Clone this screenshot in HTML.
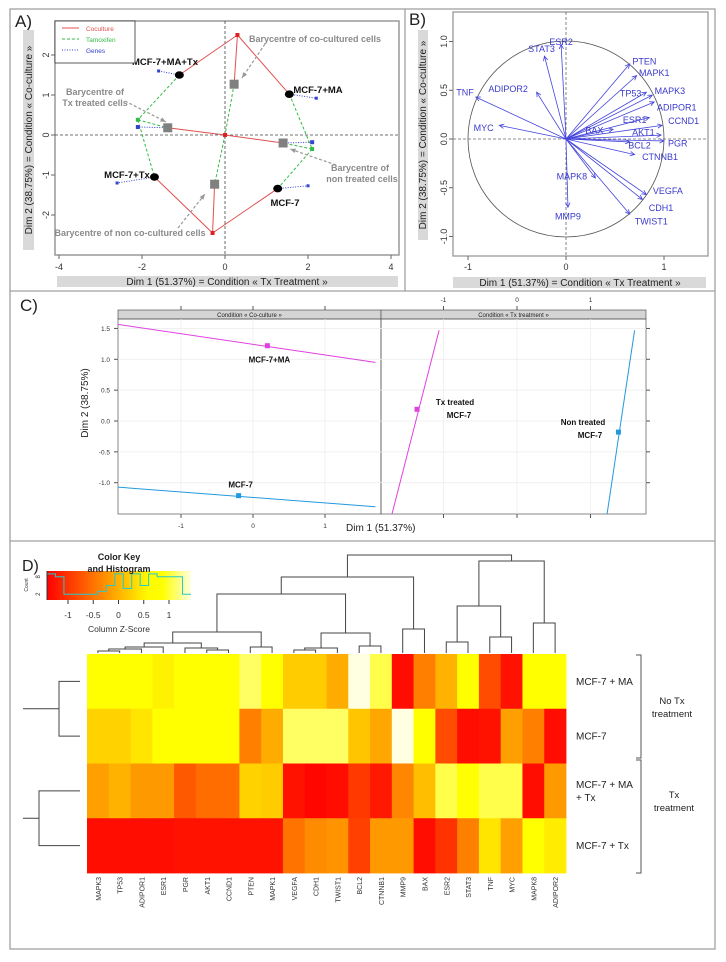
<!DOCTYPE html>
<html><head><meta charset="utf-8"><style>
body{margin:0;background:#fff}
svg{display:block;font-family:"Liberation Sans",sans-serif}
</style></head><body>
<svg id="fig" width="726" height="962" viewBox="0 0 726 962">
<rect x="0" y="0" width="726" height="962" fill="#fff"/>
<g fill="none" stroke="#a0a0a0" stroke-width="1.3">
<rect x="10" y="9" width="705" height="940"/>
<line x1="10" y1="291" x2="715" y2="291"/>
<line x1="10" y1="541" x2="715" y2="541"/>
<line x1="405" y1="9" x2="405" y2="291"/>
</g>
<g id="pA"></g>
<g id="pB"></g>
<g id="pC"></g>
<g id="pD"></g>
</svg>
<script>
// ---------- Panel A data ----------
const aSamples = ["MCF-7+MA+Tx","MCF-7+MA","MCF-7+Tx","MCF-7"];
const aSampleX = [-1.1, 1.55, -1.7, 1.27];
const aSampleY = [1.5, 1.02, -1.05, -1.34];
const aGeneX = [-1.6, 2.2, -2.6, 2.0];
const aGeneY = [1.6, 0.92, -1.2, -1.27];
const aCoX = [0.3, -0.3, 0];
const aCoY = [2.5, -2.45, 0];
const aBaryX = [0.22, -1.38, 1.4, -0.25];
const aBaryY = [1.27, 0.18, -0.2, -1.23];
const aTamX = [-2.1, 2.1];
const aTamY = [0.38, -0.35];
const aTamGeneX = [-2.1, 2.1];
const aTamGeneY = [0.2, -0.18];
const aXTicks = [-4,-2,0,2,4];
const aYTicks = [-2,-1,0,1,2];
// ---------- Panel B data ----------
const bGenes = ["ESR2","STAT3","PTEN","MAPK1","TP53","MAPK3","ADIPOR1","ESR1","CCND1","BAX","AKT1","PGR","BCL2","CTNNB1","MAPK8","MMP9","VEGFA","CDH1","TWIST1","TNF","MYC","ADIPOR2"];
const bX = [-0.05,-0.22,0.65,0.72,0.82,0.88,0.9,0.85,0.98,0.48,0.97,1.0,0.65,0.7,0.3,0.02,0.82,0.78,0.65,-0.92,-0.68,-0.3];
const bY = [0.97,0.85,0.77,0.65,0.48,0.45,0.38,0.22,0.14,0.1,0.04,-0.02,-0.03,-0.16,-0.4,-0.7,-0.57,-0.62,-0.77,0.43,0.14,0.48];
const bLabX = [-0.05,-0.25,0.8,0.9,0.66,1.06,1.13,0.7,1.2,0.29,0.79,1.14,0.75,0.96,0.06,0.02,1.04,0.97,0.87,-1.03,-0.84,-0.59];
const bLabY = [1.0,0.93,0.8,0.68,0.47,0.5,0.33,0.2,0.19,0.09,0.07,-0.04,-0.06,-0.18,-0.38,-0.79,-0.53,-0.7,-0.84,0.48,0.12,0.52];
const bTicks = [-1,0,1];
const bYTicks = [-1.0,-0.5,0.0,0.5,1.0];
// ---------- Panel C data ----------
const cLeftLineX1 = [-1.9,-1.9], cLeftLineY1 = [1.57,-1.07];
const cLeftLineX2 = [1.7,1.7], cLeftLineY2 = [0.95,-1.39];
const cLeftPtX = [0.2,-0.2], cLeftPtY = [1.22,-1.21];
const cLeftLabels = ["MCF-7+MA","MCF-7"];
const cRightLineX1 = [-1.71,1.22], cRightLineY1 = [-1.55,-1.55];
const cRightLineX2 = [-1.06,1.6], cRightLineY2 = [1.47,1.47];
const cRightPtX = [-1.36,1.38], cRightPtY = [0.19,-0.18];
const cXTicks = [-1,0,1];
const cYTicks = [-1.0,-0.5,0.0,0.5,1.0,1.5];
// ---------- Panel D data ----------
const dGenes = ["MAPK3","TP53","ADIPOR1","ESR1","PGR","AKT1","CCND1","PTEN","MAPK1","VEGFA","CDH1","TWIST1","BCL2","CTNNB1","MMP9","BAX","ESR2","STAT3","TNF","MYC","MAPK8","ADIPOR2"];
const dRowsZ = [
 [0.8,0.8,0.8,0.5,0.8,0.8,0.8,1.1,0.8,0.2,0.2,-0.05,1.35,1.05,-1.3,-0.4,0.0,0.7,-0.8,-1.25,0.8,0.8],
 [0.25,0.25,0.4,0.75,0.75,0.75,0.75,-0.4,-0.05,1.1,1.1,1.1,0.15,-0.1,1.35,0.75,-0.8,-1.3,-1.25,-0.15,-0.4,-1.3],
 [-0.15,0.0,-0.2,-0.2,-0.7,-0.55,-0.55,0.25,0.2,-1.25,-1.35,-1.3,-0.95,-1.2,-0.35,0.1,1.05,0.75,1.05,1.05,-1.3,-0.2],
 [-1.3,-1.3,-1.3,-1.3,-1.25,-1.25,-1.25,-1.25,-1.25,-0.5,-0.3,-0.25,-0.9,-0.2,-0.2,-1.3,-1.0,-0.4,0.4,-0.15,0.75,0.45]
];
const dRowLabels = [["MCF-7 + MA"],["MCF-7"],["MCF-7 + MA","+ Tx"],["MCF-7 + Tx"]];
// merges: [leftNode,rightNode,heightPx]; leaves 0..21, merges 22+
const dMerges = [
 [0,1,651],[22,2,649],[23,3,647],[5,6,650],[4,25,648],[24,26,643],[7,8,647],[27,28,632],
 [9,10,650],[30,11,648],[12,13,646],[31,32,633],[29,33,594],[14,15,629],[34,35,577],
 [16,17,642],[18,19,637],[37,38,606],[20,21,623],[39,40,561],[36,41,555]
];
const dKeyTicks = [-1,-0.5,0,0.5,1];
const dHistCounts = [9,8,2,2,2,2,3,5,9,4,9,5,9,8,8,8,2];

const NS="http://www.w3.org/2000/svg";
function mk(parent, tag, attrs, txt){const e=document.createElementNS(NS,tag);for(const k in attrs)e.setAttribute(k,attrs[k]);if(txt!==undefined)e.textContent=txt;parent.appendChild(e);return e;}

// ================= PANEL A =================
(function(){
const g=document.getElementById('pA');
const X=v=>225+41.5*v, Y=v=>135-40*v;
let e;
e=mk(g,'text',{x:15,y:27,'font-size':17,fill:'#222'},'A)');


e=mk(g,'rect',{x:55,y:21,width:344,height:234,fill:'none',stroke:'#999','stroke-width':1.5});


mk(g,'line',{x1:55,x2:399,y1:Y(0),y2:Y(0),stroke:'#444','stroke-dasharray':'3,2','stroke-width':0.8});
mk(g,'line',{x1:X(0),x2:X(0),y1:21,y2:255,stroke:'#444','stroke-dasharray':'3,2','stroke-width':0.8});
aXTicks.forEach(t=>{mk(g,'line',{x1:X(t),x2:X(t),y1:255,y2:259,stroke:'#666'});
 e=mk(g,'text',{x:X(t),y:270,'font-size':9,'text-anchor':'middle',fill:'#333'},String(t));
 
 });
aYTicks.forEach(t=>{mk(g,'line',{x1:51,x2:55,y1:Y(t),y2:Y(t),stroke:'#666'});
 e=mk(g,'text',{x:46,y:Y(t),'font-size':9,'text-anchor':'middle',fill:'#333',transform:`rotate(-90 46 ${Y(t)})`,dy:3},String(t));
 
 });
mk(g,'rect',{x:57,y:276,width:341,height:11,fill:'#d9d9d9'});
e=mk(g,'text',{x:227,y:285,'font-size':10,'text-anchor':'middle',fill:'#222'},'Dim 1 (51.37%) = Condition « Tx Treatment »');


mk(g,'rect',{x:23,y:30,width:11,height:220,fill:'#d9d9d9'});
e=mk(g,'text',{x:32,y:140,'font-size':10,'text-anchor':'middle',fill:'#222',transform:'rotate(-90 32 140)'},'Dim 2 (38.75%) = Condition « Co-culture »');


const line=(x1,y1,x2,y2,c,d,n)=>{const l=mk(g,'line',{x1:X(x1),y1:Y(y1),x2:X(x2),y2:Y(y2),stroke:c,'stroke-width':1,'stroke-dasharray':d});return l;};
const R='#e05050',G='#33bb44',B='#3344cc';
// red coculture
[[0,0],[1,0]].forEach(()=>{});
line(aSampleX[0],aSampleY[0],aCoX[0],aCoY[0],R,'none');
line(aCoX[0],aCoY[0],aSampleX[1],aSampleY[1],R,'none');
line(aCoX[0],aCoY[0],aBaryX[0],aBaryY[0],R,'none');
line(aSampleX[3],aSampleY[3],aCoX[1],aCoY[1],R,'none');
line(aCoX[1],aCoY[1],aSampleX[2],aSampleY[2],R,'none');
line(aCoX[1],aCoY[1],aBaryX[3],aBaryY[3],R,'none');
line(aBaryX[1],aBaryY[1],aCoX[2],aCoY[2],R,'none');
line(aCoX[2],aCoY[2],aBaryX[2],aBaryY[2],R,'none');
// green tamoxifen
line(aSampleX[0],aSampleY[0],aTamX[0],aTamY[0],G,'3,2');
line(aTamX[0],aTamY[0],aSampleX[2],aSampleY[2],G,'3,2');
line(aTamX[0],aTamY[0],aBaryX[1],aBaryY[1],G,'3,2');
line(aSampleX[1],aSampleY[1],aTamX[1],aTamY[1],G,'3,2');
line(aTamX[1],aTamY[1],aSampleX[3],aSampleY[3],G,'3,2');
line(aTamX[1],aTamY[1],aBaryX[2],aBaryY[2],G,'3,2');
line(aBaryX[0],aBaryY[0],aCoX[2],aCoY[2],G,'3,2');
line(aCoX[2],aCoY[2],aBaryX[3],aBaryY[3],G,'3,2');
// blue genes
aSampleX.forEach((x,i)=>line(x,aSampleY[i],aGeneX[i],aGeneY[i],B,'1,1.5'));
line(aBaryX[1],aBaryY[1],aTamGeneX[0],aTamGeneY[0],B,'1,1.5');
line(aBaryX[2],aBaryY[2],aTamGeneX[1],aTamGeneY[1],B,'1,1.5');
aGeneX.forEach((x,i)=>{e=mk(g,'rect',{x:X(x)-1.5,y:Y(aGeneY[i])-1.5,width:3,height:3,fill:B});
 
 });
aTamGeneX.forEach((x,i)=>{e=mk(g,'rect',{x:X(x)-2,y:Y(aTamGeneY[i])-2,width:4,height:4,fill:B});
 
 });
aTamX.forEach((x,i)=>{e=mk(g,'rect',{x:X(x)-2,y:Y(aTamY[i])-2,width:4,height:4,fill:G});
 
 });
aCoX.forEach((x,i)=>{e=mk(g,'rect',{x:X(x)-2,y:Y(aCoY[i])-2,width:4,height:4,fill:'#e02020'});
 
 });
aBaryX.forEach((x,i)=>{e=mk(g,'rect',{x:X(x)-4.5,y:Y(aBaryY[i])-4.5,width:9,height:9,fill:'#808080'});
 
 });
aSampleX.forEach((x,i)=>{e=mk(g,'ellipse',{cx:X(x),cy:Y(aSampleY[i]),rx:4.5,ry:3.8,fill:'#000'});
 
 });
const sl=[[165,65],[318,93],[127,178],[285,206]];
aSamples.forEach((s,i)=>{e=mk(g,'text',{x:sl[i][0],y:sl[i][1],'font-size':9.5,'font-weight':'bold','text-anchor':'middle',fill:'#111'},s);
 
 });
const ann=[["Barycentre of co-cultured cells",315,42],["Barycentre of",95,95],["Tx treated cells",95,106],["Barycentre of",360,171],["non treated cells",362,182],["Barycentre of non co-cultured cells",130,236]];
ann.forEach(a=>{e=mk(g,'text',{x:a[1],y:a[2],'font-size':9,'font-weight':'bold','text-anchor':'middle',fill:'#8a8a8a'},a[0]);
 
 });
[[265,44,242,78],[125,101,166,122],[336,165,290,149],[178,228,205,194]].forEach(a=>{
 mk(g,'line',{x1:a[0],y1:a[1],x2:a[2],y2:a[3],stroke:'#999','stroke-width':1.2,'stroke-dasharray':'3,2'});
 const ang=Math.atan2(a[3]-a[1],a[2]-a[0]);const s=6;
 mk(g,'polygon',{points:`${a[2]},${a[3]} ${a[2]-s*Math.cos(ang-0.4)},${a[3]-s*Math.sin(ang-0.4)} ${a[2]-s*Math.cos(ang+0.4)},${a[3]-s*Math.sin(ang+0.4)}`,fill:'#999'});});
// legend
const lg=mk(g,'g',{});


mk(lg,'rect',{x:55,y:21,width:80,height:42,fill:'#fff',stroke:'#333','stroke-width':0.8});
[['Coculture',R,'none',30],['Tamoxifen',G,'3,2',41],['Genes',B,'1,1.5',52]].forEach(l=>{
 mk(lg,'line',{x1:62,x2:79,y1:l[3]-2,y2:l[3]-2,stroke:l[1],'stroke-dasharray':l[2]});
 e=mk(lg,'text',{x:86,y:l[3]+1,'font-size':6.5,fill:l[1]},l[0]);
 
 });
})();

// ================= PANEL B =================
(function(){
const g=document.getElementById('pB');
const X=v=>566+98*v, Y=v=>139-97.5*v;
let e;
e=mk(g,'text',{x:409,y:25,'font-size':17,fill:'#222'},'B)');


mk(g,'rect',{x:453,y:12,width:255,height:244,fill:'none',stroke:'#999','stroke-width':1.3});
e=mk(g,'circle',{cx:X(0),cy:Y(0),r:98,fill:'none',stroke:'#555','stroke-width':0.8});


mk(g,'line',{x1:453,x2:708,y1:Y(0),y2:Y(0),stroke:'#666','stroke-dasharray':'3,2','stroke-width':0.8});
mk(g,'line',{x1:X(0),x2:X(0),y1:12,y2:256,stroke:'#666','stroke-dasharray':'3,2','stroke-width':0.8});
bTicks.forEach(t=>{mk(g,'line',{x1:X(t),x2:X(t),y1:256,y2:260,stroke:'#666'});
 e=mk(g,'text',{x:X(t),y:270,'font-size':9,'text-anchor':'middle',fill:'#333'},String(t));
 
 });
bYTicks.forEach(t=>{mk(g,'line',{x1:449,x2:453,y1:Y(t),y2:Y(t),stroke:'#666'});
 e=mk(g,'text',{x:444,y:Y(t),dy:3,'font-size':9,'text-anchor':'middle',fill:'#333',transform:`rotate(-90 444 ${Y(t)})`},t.toFixed(1));
 
 });
mk(g,'rect',{x:453,y:277,width:253,height:11,fill:'#d9d9d9'});
e=mk(g,'text',{x:580,y:286,'font-size':10,'text-anchor':'middle',fill:'#222'},'Dim 1 (51.37%) = Condition « Tx Treatment »');


mk(g,'rect',{x:418,y:30,width:10,height:210,fill:'#d9d9d9'});
e=mk(g,'text',{x:426,y:135,'font-size':10,'text-anchor':'middle',fill:'#222',transform:'rotate(-90 426 135)'},'Dim 2 (38.75%) = Condition « Co-culture »');


bGenes.forEach((n,i)=>{
 const x2=X(bX[i]),y2=Y(bY[i]),x1=X(0),y1=Y(0);
 e=mk(g,'line',{x1,y1,x2,y2,stroke:'#4444dd','stroke-width':0.8});
 
 
 const a=Math.atan2(y2-y1,x2-x1),s=5;
 mk(g,'polyline',{points:`${x2-s*Math.cos(a-0.45)},${y2-s*Math.sin(a-0.45)} ${x2},${y2} ${x2-s*Math.cos(a+0.45)},${y2-s*Math.sin(a+0.45)}`,fill:'none',stroke:'#4444dd','stroke-width':0.8});
 e=mk(g,'text',{x:X(bLabX[i]),y:Y(bLabY[i])+3.5,'font-size':9,'text-anchor':'middle',fill:'#3a3acc'},n);
 
 
});
})();

// ================= PANEL C =================
(function(){
const g=document.getElementById('pC');
const XL=v=>253+72*v, XR=v=>517+73.5*v, Y=v=>421-61.7*v;
let e;
e=mk(g,'text',{x:20,y:311,'font-size':17,fill:'#222'},'C)');


const top=319,bot=514;
[[118,381,'Condition « Co-culture »'],[381,646,'Condition « Tx treatment »']].forEach(p=>{
 e=mk(g,'rect',{x:p[0],y:310,width:p[1]-p[0],height:9,fill:'#d4d4d4',stroke:'#555','stroke-width':0.7});
 
 
 e=mk(g,'text',{x:(p[0]+p[1])/2,y:317,'font-size':6,'text-anchor':'middle',fill:'#222'},p[2]);
 
 
 mk(g,'rect',{x:p[0],y:top,width:p[1]-p[0],height:bot-top,fill:'none',stroke:'#555','stroke-width':0.7});
});
cYTicks.forEach(t=>{mk(g,'line',{x1:118,x2:646,y1:Y(t),y2:Y(t),stroke:'#eee','stroke-width':0.8});
 mk(g,'line',{x1:114,x2:118,y1:Y(t),y2:Y(t),stroke:'#555'});
 mk(g,'line',{x1:646,x2:650,y1:Y(t),y2:Y(t),stroke:'#555'});
 e=mk(g,'text',{x:110,y:Y(t)+2.5,'font-size':6.5,'text-anchor':'end',fill:'#333'},t.toFixed(1));
 
 });
cXTicks.forEach(t=>{mk(g,'line',{x1:XL(t),x2:XL(t),y1:top,y2:bot,stroke:'#eee','stroke-width':0.8});
 mk(g,'line',{x1:XR(t),x2:XR(t),y1:top,y2:bot,stroke:'#eee','stroke-width':0.8});
 mk(g,'line',{x1:XL(t),x2:XL(t),y1:bot,y2:bot+4,stroke:'#555'});
 mk(g,'line',{x1:XR(t),x2:XR(t),y1:306,y2:310,stroke:'#555'});
 mk(g,'line',{x1:XL(t),x2:XL(t),y1:306,y2:310,stroke:'#555'});
 mk(g,'line',{x1:XR(t),x2:XR(t),y1:bot,y2:bot+4,stroke:'#555'});
 e=mk(g,'text',{x:XL(t),y:bot+14,'font-size':6.5,'text-anchor':'middle',fill:'#333'},String(t));
 
 
 e=mk(g,'text',{x:XR(t),y:302,'font-size':6.5,'text-anchor':'middle',fill:'#333'},String(t));
 
 });
const cols=['#e040e0','#2299dd'];
const clipL=mk(g,'clipPath',{id:'cl'});mk(clipL,'rect',{x:118,y:top,width:263,height:bot-top});
const clipR=mk(g,'clipPath',{id:'cr'});mk(clipR,'rect',{x:381,y:top,width:265,height:bot-top});
const gl=mk(g,'g',{'clip-path':'url(#cl)'}), gr=mk(g,'g',{'clip-path':'url(#cr)'});
cLeftLineX1.forEach((x,i)=>{
 e=mk(gl,'line',{x1:XL(x),y1:Y(cLeftLineY1[i]),x2:XL(cLeftLineX2[i]),y2:Y(cLeftLineY2[i]),stroke:cols[i],'stroke-width':1});
 
 
 e=mk(gl,'rect',{x:XL(cLeftPtX[i])-2.5,y:Y(cLeftPtY[i])-2.5,width:5,height:5,fill:cols[i]});
 
 
 e=mk(g,'text',{x:XL(cLeftPtX[i])+2,y:Y(cLeftPtY[i])+(i==0?17:-8),'font-size':8,'font-weight':'bold','text-anchor':'middle',fill:'#111'},cLeftLabels[i]);
 
 
});
cRightLineX1.forEach((x,i)=>{
 e=mk(gr,'line',{x1:XR(x),y1:Y(cRightLineY1[i]),x2:XR(cRightLineX2[i]),y2:Y(cRightLineY2[i]),stroke:cols[i],'stroke-width':1});
 
 
 e=mk(gr,'rect',{x:XR(cRightPtX[i])-2.5,y:Y(cRightPtY[i])-2.5,width:5,height:5,fill:cols[i]});
 
 
});
[["Tx treated",455,405],["MCF-7",459,418],["Non treated",583,425],["MCF-7",590,438]].forEach(t=>{
 e=mk(g,'text',{x:t[1],y:t[2],'font-size':8,'font-weight':'bold','text-anchor':'middle',fill:'#111'},t[0]);
 
 });
e=mk(g,'text',{x:346,y:531,'font-size':10,fill:'#222'},'Dim 1 (51.37%)');


e=mk(g,'text',{x:88,y:403,'font-size':10,'text-anchor':'middle',fill:'#222',transform:'rotate(-90 88 403)'},'Dim 2 (38.75%)');


})();

// ================= PANEL D =================
(function(){
const g=document.getElementById('pD');
let e;
const x0=87,x1=566,y0=654,y1=873,n=dGenes.length,cw=(x1-x0)/n,rh=(y1-y0)/4;
function col(z){
 let r=255,gg,b=0;
 if(z<=0.6){gg=Math.max(0,Math.min(255,255*(z+1.4)/2.0));}
 else if(z<=0.9){gg=255;}
 else{gg=255;b=Math.min(225,225*(z-0.9)/0.45);}
 return `rgb(${r},${Math.round(gg)},${Math.round(b)})`;}
e=mk(g,'text',{x:22,y:571,'font-size':16,fill:'#222'},'D)');


dRowsZ.forEach((row,r)=>row.forEach((z,c)=>{
 e=mk(g,'rect',{x:x0+c*cw,y:y0+r*rh,width:cw+0.4,height:rh+0.4,fill:col(z)});
 
 
}));
dGenes.forEach((n2,c)=>{const cx=x0+(c+0.5)*cw+3;
 e=mk(g,'text',{x:cx,y:877,'font-size':7,'text-anchor':'end',fill:'#333',transform:`rotate(-90 ${cx} 877)`},n2);
 
 });
dRowLabels.forEach((lab,r)=>{lab.forEach((t,k)=>{
 const yy=y0+(r+0.5)*rh+3.5+(lab.length>1?(k-0.5)*13:0);
 e=mk(g,'text',{x:576,y:yy,'font-size':10,fill:'#222'},t);
 
 });});
// brackets
[[655,758],[760,873]].forEach(b=>{mk(g,'path',{d:`M636 ${b[0]} H641 V${b[1]} H636`,fill:'none',stroke:'#555','stroke-width':1});});
[["No Tx",672,704],["treatment",672,717],["Tx",674,798],["treatment",674,811]].forEach(t=>{
 e=mk(g,'text',{x:t[1],y:t[2],'font-size':9.5,'text-anchor':'middle',fill:'#222'},t[0]);
 
 });
// row dendrogram
const rc=r=>y0+(r+0.5)*rh;
const rd=mk(g,'g',{fill:'none',stroke:'#444','stroke-width':1});


mk(rd,'path',{d:`M80 ${rc(0)} H59 V${rc(1)} H80 M59 ${(rc(0)+rc(1))/2} H23`});
mk(rd,'path',{d:`M80 ${rc(2)} H39 V${rc(3)} H80 M39 ${(rc(2)+rc(3))/2} H23`});
// column dendrogram
const cd=mk(g,'g',{fill:'none',stroke:'#444','stroke-width':1});


const nx=[],ny=[];
dGenes.forEach((_,i)=>{nx.push(x0+(i+0.5)*cw);ny.push(653);});
dMerges.forEach(m=>{const a=m[0],b=m[1],h=m[2];
 mk(cd,'path',{d:`M${nx[a]} ${ny[a]} V${h} H${nx[b]} V${ny[b]}`});
 nx.push((nx[a]+nx[b])/2);ny.push(h);});
// color key
const kx=v=>118.5+50.5*v;
const defs=mk(g,'defs',{});
const lgr=mk(defs,'linearGradient',{id:'kg',x1:0,x2:1,y1:0,y2:0});
for(let i=0;i<=10;i++){const z=-1.4+2.8*i/10;mk(lgr,'stop',{offset:i/10,'stop-color':col(z)});}
e=mk(g,'rect',{x:47,y:571,width:144,height:29,fill:'url(#kg)'});


let p='',hw=144/dHistCounts.length;
dHistCounts.forEach((c,i)=>{const yy=600-c*2.9;p+=(i==0?`M${47} ${yy}`:` V${yy}`)+` H${47+(i+1)*hw}`;});
e=mk(g,'path',{d:p,fill:'none',stroke:'#22cccc','stroke-width':1});


mk(g,'line',{x1:47,x2:47,y1:571,y2:600,stroke:'#333'});
dKeyTicks.forEach(t=>{mk(g,'line',{x1:kx(t),x2:kx(t),y1:600,y2:604,stroke:'#333'});
 e=mk(g,'text',{x:kx(t),y:618,'font-size':8.5,'text-anchor':'middle',fill:'#333'},String(t));
 
 });
[2,8].forEach(c=>{e=mk(g,'text',{x:40,y:600-c*2.9,'font-size':6,'text-anchor':'middle',fill:'#333',transform:`rotate(-90 40 ${600-c*2.9})`},String(c));
 
 });
e=mk(g,'text',{x:28,y:585,'font-size':5,'text-anchor':'middle',fill:'#333',transform:'rotate(-90 28 585)'},'Count');


e=mk(g,'text',{x:119,y:632,'font-size':8.5,'text-anchor':'middle',fill:'#333'},'Column Z-Score');


e=mk(g,'text',{x:119,y:560,'font-size':9,'font-weight':'bold','text-anchor':'middle',fill:'#222'},'Color Key');


e=mk(g,'text',{x:119,y:572,'font-size':9,'font-weight':'bold','text-anchor':'middle',fill:'#222'},'and Histogram');


})();
</script>
</body></html>
